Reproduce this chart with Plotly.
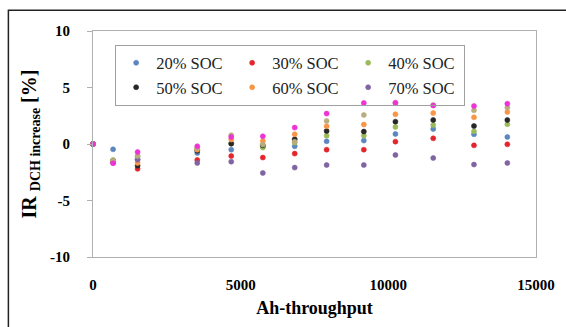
import plotly.graph_objects as go

# Ah-throughput positions of each measurement group
ah = [0, 680, 1510, 3530, 4680, 5750, 6830, 7910, 9170, 10240, 11520, 12900, 14030]

# IR DCH increase [%] per SOC series
soc20 = [0, -0.47, -1.35, -0.80, -0.50, -0.25, -0.20, 0.24, 0.30, 0.89, 1.33, 0.86, 0.62]
soc30 = [0, -1.60, -2.20, -1.41, -1.06, -1.20, -0.85, -0.50, -0.50, 0.21, 0.50, -0.12, -0.03]
soc40 = [0, -1.42, -1.10, -0.45, 0.05, -0.32, 0.12, 0.74, 0.74, 1.51, 1.68, 1.12, 1.74]
soc50 = [0, -1.50, -1.92, -0.60, 0.03, -0.12, 0.42, 1.15, 1.10, 1.98, 2.12, 1.59, 2.12]
soc60 = [0, -1.55, -1.68, -0.50, 0.39, 0.27, 0.86, 1.57, 1.72, 2.63, 2.74, 2.36, 2.83]
soc70 = [0, -1.65, -1.39, -1.68, -1.56, -2.56, -2.09, -1.86, -1.86, -0.97, -1.24, -1.82, -1.68]
soc80 = [0, -1.45, -1.06, -0.35, 0.78, -0.05, 0.20, 2.04, 2.57, 3.60, 3.45, 2.98, 3.22]
soc90 = [0, -1.71, -0.71, -0.20, 0.62, 0.68, 1.45, 2.69, 3.63, 3.66, 3.40, 3.36, 3.57]

series = [
    ("20% SOC", soc20, "#5B86C0", True),
    ("30% SOC", soc30, "#E3262E", True),
    ("40% SOC", soc40, "#9BBB59", True),
    ("50% SOC", soc50, "#262626", True),
    ("60% SOC", soc60, "#F79646", True),
    ("70% SOC", soc70, "#8064A2", True),
    ("80% SOC", soc80, "#B8AD7E", False),
    ("90% SOC", soc90, "#EE33D4", False),
]

x_range = [0, 15000]
y_range = [-10, 10]
x_ticks = [0, 5000, 10000, 15000]
y_ticks = [-10, -5, 0, 5, 10]

fig = go.Figure()
for name, vals, col, leg in series:
    fig.add_trace(go.Scatter(
        x=ah, y=vals, mode="markers", name=name, showlegend=leg,
        marker=dict(size=5, color=col, line=dict(width=0.6, color=col)),
        cliponaxis=False,
    ))

serif = "Liberation Serif, Times New Roman, Times, serif"
axis_gray = "#B0B0B0"
zero_pos = (0 - y_range[0]) / (y_range[1] - y_range[0])

fig.update_layout(
    width=566, height=327,
    margin=dict(l=93, r=30, t=31, b=70, pad=0),
    paper_bgcolor="white", plot_bgcolor="white",
    font=dict(family=serif, color="black"),
    xaxis=dict(
        range=x_range, tickvals=x_ticks, ticktext=[str(v) for v in x_ticks],
        showgrid=False, zeroline=False, showline=True, linecolor=axis_gray,
        linewidth=1, mirror=True, ticks="", ticklabelstandoff=14,
        tickfont=dict(family=serif, size=15, weight="bold"),
        title=dict(text="Ah-throughput", standoff=9,
                   font=dict(family=serif, size=18, weight="bold")),
    ),
    yaxis=dict(
        range=y_range, tickvals=y_ticks, ticktext=[str(v) for v in y_ticks],
        showgrid=False, zeroline=False, showline=True, linecolor=axis_gray,
        linewidth=1, mirror=True, ticks="outside", ticklen=5, tickcolor=axis_gray,
        ticklabelstandoff=14,
        tickfont=dict(family=serif, size=15, weight="bold"),
        title=dict(text="IR <sub>DCH increase</sub> [%]", standoff=8,
                   font=dict(family=serif, size=20, weight="bold")),
    ),
    xaxis2=dict(
        range=x_range, overlaying="x", anchor="free", position=zero_pos,
        side="bottom", showgrid=False, zeroline=False, showline=True,
        linecolor=axis_gray, linewidth=1.5, ticks="inside", dtick=1000,
        tick0=0, ticklen=4, tickcolor="#A0A0A0", showticklabels=False,
    ),
    xaxis3=dict(
        range=x_range, overlaying="x", anchor="free", position=zero_pos,
        side="bottom", showgrid=False, zeroline=False, showline=False,
        ticks="outside", dtick=5000, tick0=0, ticklen=5, tickcolor="#A0A0A0",
        showticklabels=False,
    ),
    legend=dict(
        orientation="h", x=0.05, y=0.94, xanchor="left", yanchor="top",
        bgcolor="rgba(255,255,255,0)", bordercolor="#A0A0A0", borderwidth=1,
        font=dict(family=serif, size=16.5, color="#222"),
        entrywidth=71, entrywidthmode="pixels", itemwidth=30,
    ),
    shapes=[dict(type="rect", xref="paper", yref="paper",
                 x0=-0.191, x1=1.4, y0=-0.4, y1=1.0916,
                 line=dict(color="#222", width=1.5), layer="below")],
)

fig.write_html("out.html")
